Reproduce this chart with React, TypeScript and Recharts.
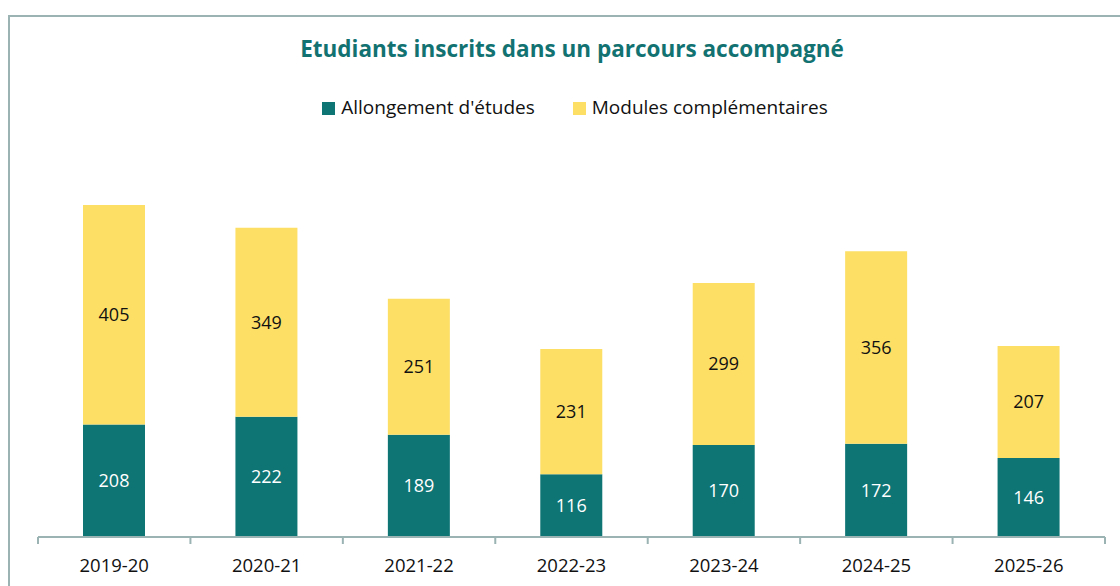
import React from "react";
import { BarChart, Bar, XAxis, YAxis, Legend, LabelList } from "recharts";

const categories = ["2019-20", "2020-21", "2021-22", "2022-23", "2023-24", "2024-25", "2025-26"];
const allongement = [208, 222, 189, 116, 170, 172, 146];
const modules = [405, 349, 251, 231, 299, 356, 207];

const data = categories.map((c, i) => ({ year: c, allongement: allongement[i], modules: modules[i] }));

const W = 1120;
const H = 586;
const M = { top: 132, right: 15, left: 38, bottom: 19 };
const band = (W - M.left - M.right) / categories.length;
const FONT = "'Open Sans', Lato, sans-serif";
const AXIS = "#9bb3b3";

const Tick = (props: any) => {
  const { x, y, payload, index } = props;
  const left = x - band / 2;
  const right = x + band / 2;
  return (
    <g>
      <line x1={left} y1={y} x2={left} y2={y + 7} stroke={AXIS} strokeWidth={2} />
      {index === categories.length - 1 && (
        <line x1={right} y1={y} x2={right} y2={y + 7} stroke={AXIS} strokeWidth={2} />
      )}
      <text x={x} y={y + 35} textAnchor="middle" fontSize={18.5} fill="#111" fontFamily={FONT}>
        {payload.value}
      </text>
    </g>
  );
};

export default function App() {
  return (
    <div style={{ position: "absolute", left: 0, top: 0, width: W, height: H, background: "#fff", fontFamily: FONT }}>
      <div
        style={{
          position: "absolute",
          left: 8,
          top: 15,
          right: 0,
          bottom: 0,
          borderLeft: `2px solid ${AXIS}`,
          borderTop: `2px solid ${AXIS}`,
        }}
      />
      <div
        style={{
          position: "absolute",
          left: 12,
          top: 33,
          width: W,
          textAlign: "center",
          fontSize: 22.5,
          fontWeight: 700,
          color: "#127272",
          fontFamily: FONT,
        }}
      >
        Etudiants inscrits dans un parcours accompagné
      </div>
      <div style={{ position: "absolute", left: 0, top: 0 }}>
        <BarChart width={W} height={H} data={data} margin={M} barSize={62}>
          <XAxis
            dataKey="year"
            axisLine={{ stroke: AXIS, strokeWidth: 2 }}
            tickLine={false}
            tickSize={0}
            tickMargin={0}
            height={30}
            tick={<Tick />}
            interval={0}
          />
          <YAxis hide domain={[0, 700]} />
          <Legend
            verticalAlign="top"
            align="center"
            iconType="square"
            iconSize={13}
            wrapperStyle={{ top: 94, left: 34, width: W, fontSize: 19, fontFamily: FONT }}
            formatter={(v: string) => (
              <span style={{ color: "#111", marginLeft: 2, marginRight: 28 }}>{v}</span>
            )}
          />
          <Bar dataKey="allongement" name="Allongement d'études" stackId="a" fill="#0e7474" isAnimationActive={false}>
            <LabelList dataKey="allongement" position="center" fill="#fff" fontSize={18} fontFamily={FONT} />
          </Bar>
          <Bar dataKey="modules" name="Modules complémentaires" stackId="a" fill="#fddf66" isAnimationActive={false}>
            <LabelList dataKey="modules" position="center" fill="#111" fontSize={18} fontFamily={FONT} />
          </Bar>
        </BarChart>
      </div>
    </div>
  );
}
